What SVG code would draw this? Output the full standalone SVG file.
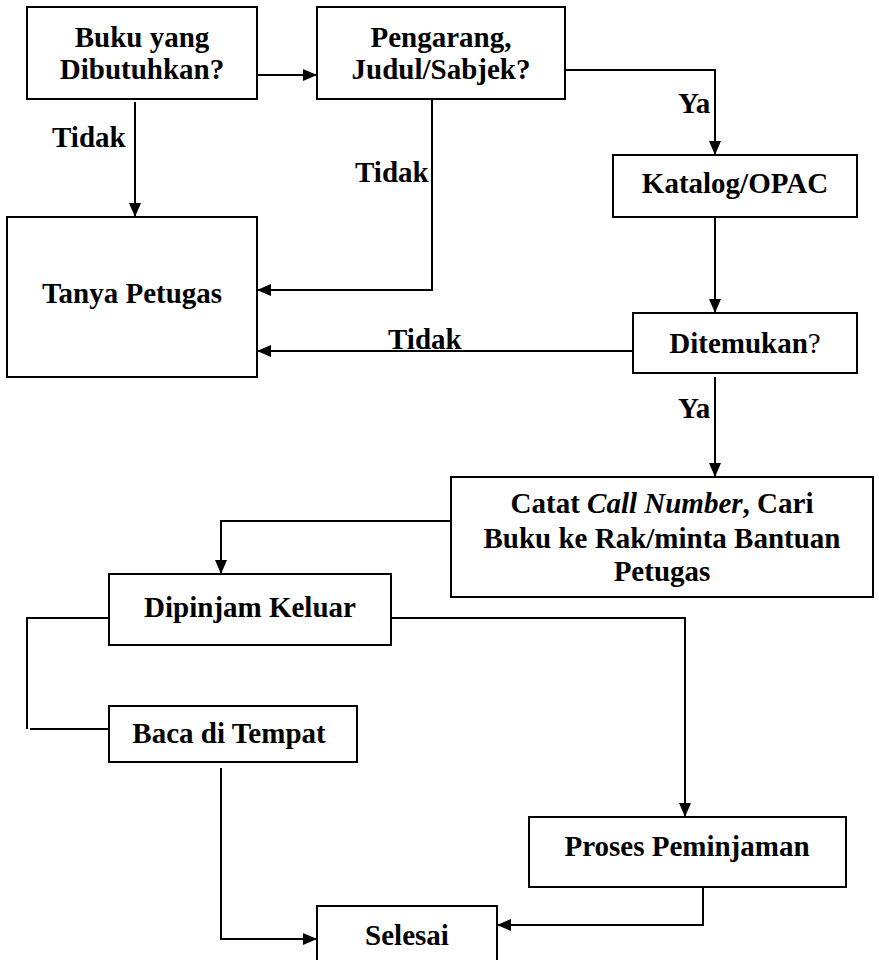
<svg xmlns="http://www.w3.org/2000/svg" width="879" height="960" viewBox="0 0 879 960">
<defs>
<marker id="arr" viewBox="0 0 14 12" refX="14" refY="6" markerWidth="14" markerHeight="12" markerUnits="userSpaceOnUse" orient="auto">
<path d="M0,0 L14,6 L0,12 z" fill="#000"/>
</marker>
</defs>
<style>
.box{fill:#fff;stroke:#000;stroke-width:2}
.t{font-family:"Liberation Serif","Times New Roman",serif;font-weight:bold;font-size:29px;fill:#000;text-anchor:middle}
.lbl{font-family:"Liberation Serif","Times New Roman",serif;font-weight:bold;font-size:29px;fill:#000}
.c{fill:none;stroke:#000;stroke-width:2}
.a{marker-end:url(#arr)}
</style>
<rect width="879" height="960" fill="#fff"/>
<g id="connectors">
<path class="c a" d="M257,75 H317"/>
<path class="c a" d="M135,102 V217"/>
<path class="c a" d="M432,99 V290 H257"/>
<path class="c a" d="M565,70 H715 V155"/>
<path class="c a" d="M715,217 V313"/>
<path class="c a" d="M633,351 H257"/>
<path class="c a" d="M715,377 V477"/>
<path class="c a" d="M451,521 H221 V574"/>
<path class="c" d="M109,618 H27 V729"/>
<path class="c" d="M30,729 H109"/>
<path class="c a" d="M391,618 H685 V817"/>
<path class="c a" d="M221,768 V939 H317"/>
<path class="c a" d="M703,887 V925 H497"/>
<text class="lbl" x="52" y="147">Tidak</text>
<text class="lbl" x="355" y="182">Tidak</text>
<text class="lbl" x="678" y="113">Ya</text>
<text class="lbl" x="388" y="349">Tidak</text>
<text class="lbl" x="678" y="418">Ya</text>
</g>
<g id="n1">
<rect class="box" x="27" y="7" width="230" height="92"/>
<text class="t" x="142" y="47">Buku yang</text>
<text class="t" x="142" y="79">Dibutuhkan?</text>
</g>
<g id="n2">
<rect class="box" x="317" y="7" width="248" height="92"/>
<text class="t" x="441" y="47">Pengarang,</text>
<text class="t" x="441" y="79">Judul/Sabjek?</text>
</g>
<g id="n3">
<rect class="box" x="613" y="155" width="244" height="62"/>
<text class="t" x="735" y="193">Katalog/OPAC</text>
</g>
<g id="n4">
<rect class="box" x="7" y="217" width="250" height="160"/>
<text class="t" x="132" y="303">Tanya Petugas</text>
</g>
<g id="n5">
<rect class="box" x="633" y="313" width="224" height="60"/>
<text class="t" x="745" y="353">Ditemukan<tspan font-weight="normal">?</tspan></text>
</g>
<g id="n6">
<rect class="box" x="451" y="477" width="422" height="120"/>
<text class="t" x="662" y="513">Catat <tspan font-style="italic">Call Number</tspan>, Cari</text>
<text class="t" x="662" y="548">Buku ke Rak/minta Bantuan</text>
<text class="t" x="662" y="581">Petugas</text>
</g>
<g id="n7">
<rect class="box" x="109" y="574" width="282" height="71"/>
<text class="t" x="250" y="617">Dipinjam Keluar</text>
</g>
<g id="n8">
<rect class="box" x="109" y="706" width="248" height="56"/>
<text class="t" x="229" y="743">Baca di Tempat</text>
</g>
<g id="n9">
<rect class="box" x="529" y="817" width="317" height="70"/>
<text class="t" x="687" y="856">Proses Peminjaman</text>
</g>
<g id="n10">
<rect class="box" x="317" y="906" width="180" height="60"/>
<text class="t" x="407" y="945">Selesai</text>
</g>
</svg>
